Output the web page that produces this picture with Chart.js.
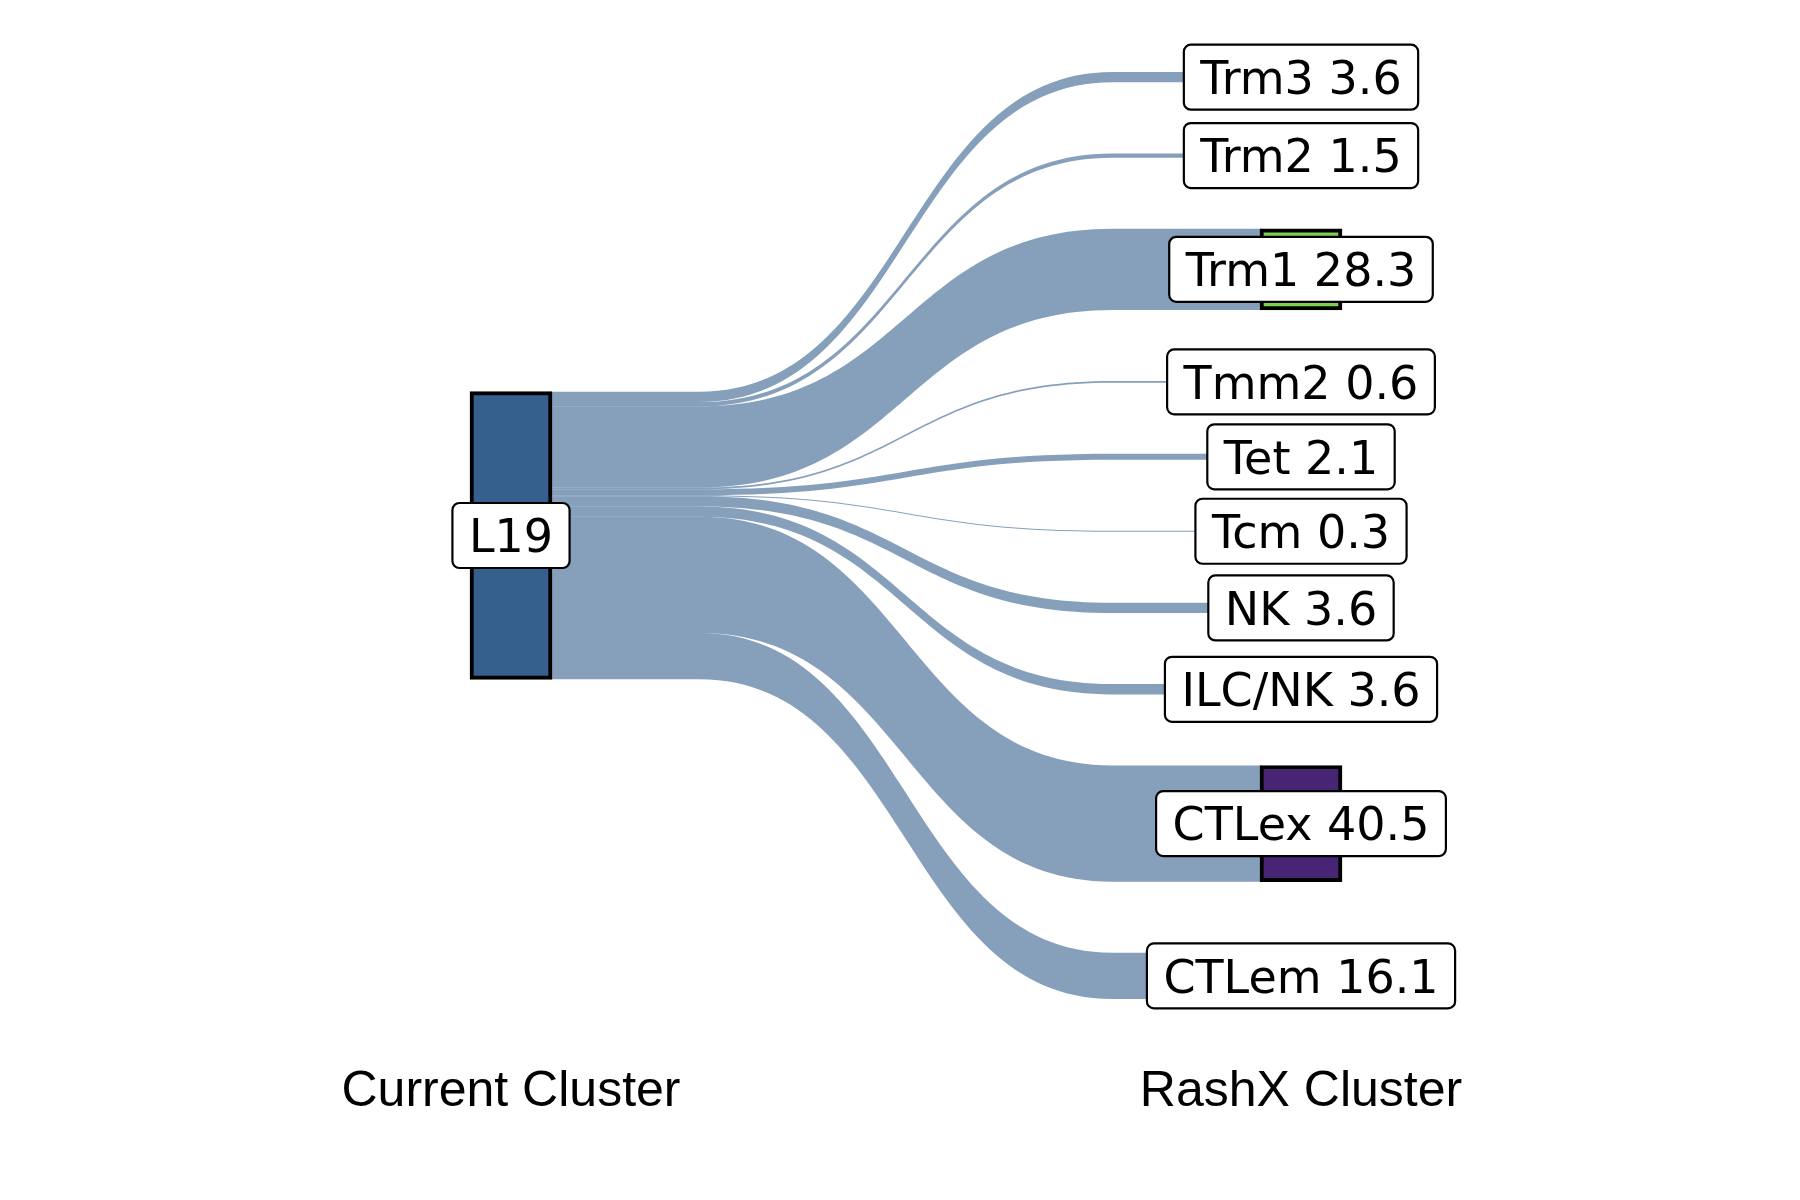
<!DOCTYPE html>
<html>
<head>
<meta charset="utf-8">
<script src="https://cdn.jsdelivr.net/npm/chart.js@4.4.1/dist/chart.umd.min.js"></script>
<style>
  html, body { margin: 0; padding: 0; background: #fff; }
  #wrap { width: 1800px; height: 1200px; }
</style>
</head>
<body>
<div id="wrap"><canvas id="sankey" width="1800" height="1200"></canvas></div>
<script>
  // ========== DATA ==========
  const sourceLabel = "L19";
  const sourceColor = "#355f8d";
  const targetLabels = ["Trm3", "Trm2", "Trm1", "Tmm2", "Tet", "Tcm", "NK", "ILC/NK", "CTLex", "CTLem"];
  const targetPercent = [3.6, 1.5, 28.3, 0.6, 2.1, 0.3, 3.6, 3.6, 40.5, 16.1];
  const targetColors = ["#2a788e", "#22a884", "#7ad151", "#414487", "#fde725", "#2c728e", "#bddf26", "#35b779", "#482475", "#1f988b"];
  const columnTitles = ["Current Cluster", "RashX Cluster"];

  // ========== LAYOUT ==========
  const NODE_GAP = 24.75;        // gap between right-hand nodes, in % units
  const NODE_WIDTH = 82;         // px
  const BEND = [0.21, 0.79];     // where the S-curve starts / ends between the columns
  const FLOW_COLOR = "rgba(53, 95, 141, 0.6)";
  const TAG_FONT = 46;
  const TAG_PAD_X = 16.5;
  const TAG_HEIGHT = 65;

  const sourceTotal = targetPercent.reduce((a, b) => a + b, 0);
  const columnSpan = sourceTotal + NODE_GAP * (targetPercent.length - 1);

  // stacked positions (in % units) of every node and flow
  const targetStart = [];
  let acc = 0;
  targetPercent.forEach(v => { targetStart.push(acc); acc += v + NODE_GAP; });

  const sourceStart = (columnSpan - sourceTotal) / 2;
  const flowLeftStart = [];
  acc = sourceStart;
  targetPercent.forEach(v => { flowLeftStart.push(acc); acc += v; });

  const nodeData = [{ x: 0, y: [sourceStart, sourceStart + sourceTotal] }]
    .concat(targetPercent.map((v, i) => ({ x: 1, y: [targetStart[i], targetStart[i] + v] })));

  // ========== PLUGINS ==========
  const flowPlugin = {
    id: "flows",
    beforeDatasetsDraw(chart) {
      const { ctx, scales: { x, y } } = chart;
      const x0 = x.getPixelForValue(0) + NODE_WIDTH / 2 - 2;
      const x1 = x.getPixelForValue(1) - NODE_WIDTH / 2 + 2;
      const xa = x0 + (x1 - x0) * BEND[0];
      const xb = x0 + (x1 - x0) * BEND[1];
      const xm = (xa + xb) / 2;
      ctx.save();
      ctx.fillStyle = FLOW_COLOR;
      targetPercent.forEach((v, i) => {
        const l0 = y.getPixelForValue(flowLeftStart[i]);
        const l1 = y.getPixelForValue(flowLeftStart[i] + v);
        const r0 = y.getPixelForValue(targetStart[i]);
        const r1 = y.getPixelForValue(targetStart[i] + v);
        ctx.beginPath();
        ctx.moveTo(x0, l0);
        ctx.lineTo(xa, l0);
        ctx.bezierCurveTo(xm, l0, xm, r0, xb, r0);
        ctx.lineTo(x1, r0);
        ctx.lineTo(x1, r1);
        ctx.lineTo(xb, r1);
        ctx.bezierCurveTo(xm, r1, xm, l1, xa, l1);
        ctx.lineTo(x0, l1);
        ctx.closePath();
        ctx.fill();
      });
      ctx.restore();
    }
  };

  function drawTag(ctx, text, cx, cy) {
    ctx.font = TAG_FONT + "px 'DejaVu Sans'";
    const w = ctx.measureText(text).width + 2 * TAG_PAD_X;
    ctx.beginPath();
    ctx.roundRect(cx - w / 2, cy - TAG_HEIGHT / 2, w, TAG_HEIGHT, 7);
    ctx.fillStyle = "#fff";
    ctx.fill();
    ctx.lineWidth = 2.2;
    ctx.strokeStyle = "#000";
    ctx.stroke();
    ctx.fillStyle = "#000";
    ctx.textAlign = "center";
    ctx.textBaseline = "alphabetic";
    ctx.fillText(text, cx, cy + TAG_FONT * 0.729 / 2);
  }

  const tagPlugin = {
    id: "tags",
    afterDatasetsDraw(chart) {
      const { ctx, scales: { x, y } } = chart;
      ctx.save();
      drawTag(ctx, sourceLabel, x.getPixelForValue(0), y.getPixelForValue(sourceStart + sourceTotal / 2));
      targetLabels.forEach((name, i) => {
        const cy = y.getPixelForValue(targetStart[i] + targetPercent[i] / 2);
        drawTag(ctx, name + " " + targetPercent[i].toFixed(1), x.getPixelForValue(1), cy);
      });
      ctx.restore();
    }
  };

  // ========== CHART ==========
  new Chart(document.getElementById("sankey"), {
    type: "bar",
    data: {
      datasets: [{
        data: nodeData,
        backgroundColor: [sourceColor].concat(targetColors),
        borderColor: "#000",
        borderWidth: 4,
        borderSkipped: false,
        barThickness: NODE_WIDTH,
        grouped: false
      }]
    },
    options: {
      responsive: false,
      animation: false,
      layout: { padding: { top: 72, left: 116, right: 104, bottom: 0 } },
      plugins: { legend: { display: false }, tooltip: { enabled: false } },
      scales: {
        x: {
          type: "linear",
          min: -0.5,
          max: 1.5,
          offset: false,
          grid: { display: false, drawTicks: false },
          border: { display: false },
          afterBuildTicks(axis) { axis.ticks = [{ value: 0 }, { value: 1 }]; },
          afterFit(axis) { axis.height = 201; },
          ticks: {
            padding: 63,
            maxRotation: 0,
            autoSkip: false,
            color: "#000",
            font: { family: "'Liberation Sans', Arial, sans-serif", size: 50 },
            callback: (v) => columnTitles[v]
          }
        },
        y: {
          type: "linear",
          display: false,
          reverse: true,
          min: 0,
          max: columnSpan
        }
      }
    },
    plugins: [flowPlugin, tagPlugin]
  });
</script>
</body>
</html>
